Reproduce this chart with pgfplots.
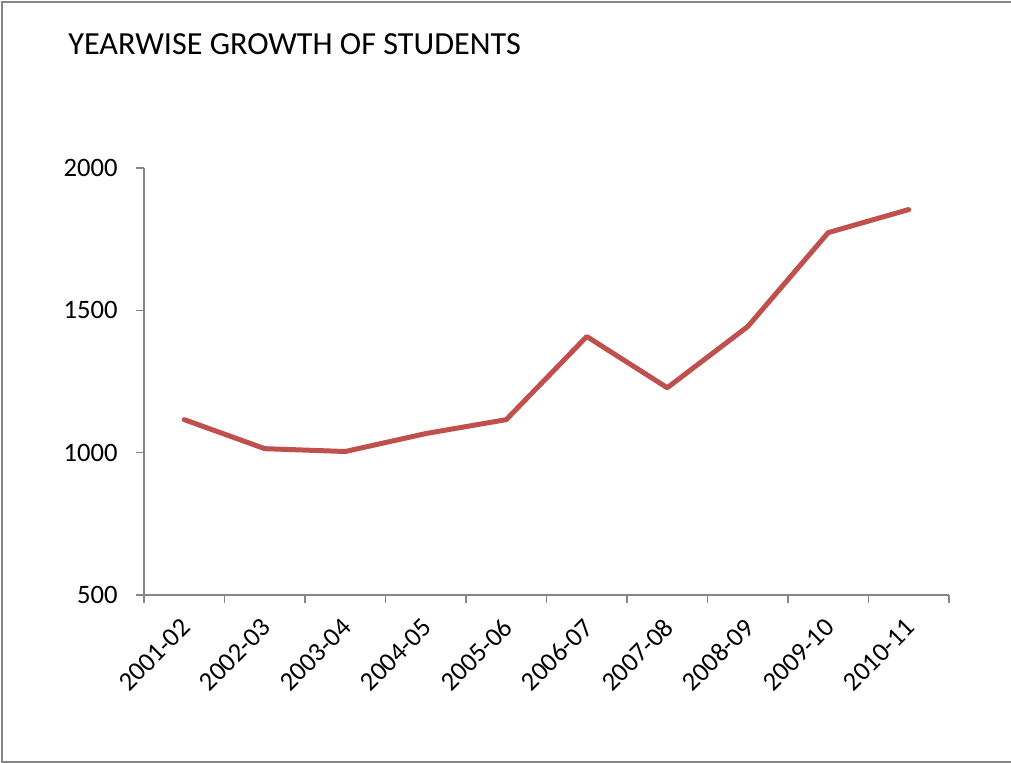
\documentclass[border=0pt]{standalone}
\usepackage{pgfplots}
\pgfplotsset{compat=1.18}
\usepackage{fontspec}
\setmainfont{Carlito}
\definecolor{exred}{HTML}{C0504D}
\definecolor{axgray}{HTML}{868686}
\begin{document}
\begin{tikzpicture}[x=1pt,y=1pt]
\useasboundingbox (0,0) rectangle (505.5,381.5);
% outer frame (right edge clipped in reference)
\draw[axgray,line width=1.2pt] (506,380.6) -- (1,380.6) -- (1,0.6) -- (506,0.6);
\node[anchor=base west,inner sep=0pt,font=\fontsize{16.1}{18}\selectfont] at (34,354) {YEARWISE GROWTH OF STUDENTS};
\begin{axis}[
  at={(72pt,84pt)}, anchor=south west,
  scale only axis, width=402.5pt, height=213.5pt,
  xmin=-0.5, xmax=9.5, ymin=500, ymax=2000,
  axis x line*=bottom, axis y line*=left,
  axis line style={axgray,line width=0.7pt},
  every tick/.style={axgray,line width=0.7pt},
  tick align=outside,
  major tick length=4pt,
  xtick={-0.5,0.5,...,8.5},
  xticklabels={2001-02,2002-03,2003-04,2004-05,2005-06,2006-07,2007-08,2008-09,2009-10,2010-11},
  extra x ticks={9.5},
  extra x tick labels={},
  ytick={500,1000,1500,2000},
  /pgf/number format/assume math mode=true,
  /pgf/number format/1000 sep={},
  tick label style={font=\fontsize{13.3}{15}\selectfont, text=black},
  yticklabel style={anchor=east, inner sep=0pt, xshift=-9pt},
  xticklabel style={xshift=21.1pt, yshift=-10pt, rotate=45, anchor=east, inner sep=0pt},
  clip=false,
]
\addplot[exred, line width=2.5pt, line cap=round, line join=round, mark=none] coordinates {
  (0,1116) (1,1014) (2,1004) (3,1067) (4,1116) (5,1408) (6,1228) (7,1443) (8,1773) (9,1854)
};
\end{axis}
\end{tikzpicture}
\end{document}
